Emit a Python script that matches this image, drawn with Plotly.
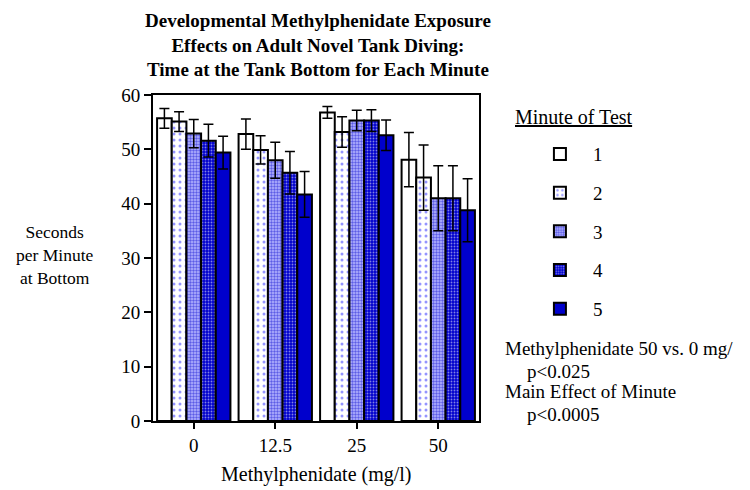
import plotly.graph_objects as go

doses = ["0", "12.5", "25", "50"]
minutes = ["1", "2", "3", "4", "5"]
# mean seconds per minute at bottom, per minute of test (rows) and dose (columns)
means = [
    [55.7, 52.8, 56.8, 48.1],
    [55.1, 49.9, 53.2, 44.8],
    [52.9, 48.0, 55.3, 41.0],
    [51.6, 45.7, 55.3, 41.0],
    [49.4, 41.7, 52.6, 38.8],
]
sems = [
    [1.8, 2.8, 1.1, 5.0],
    [1.8, 2.6, 2.8, 6.0],
    [2.6, 3.3, 1.9, 6.0],
    [3.0, 3.9, 2.0, 6.0],
    [3.0, 4.2, 2.8, 5.8],
]
title_lines = ["Developmental Methylphenidate Exposure",
               "Effects on Adult Novel Tank Diving:",
               "Time at the Tank Bottom for Each Minute"]

BLUE = "#0000CC"
patterns = [
    dict(shape="", bgcolor="white"),
    dict(shape=".", fgcolor="#2a2aff", bgcolor="white", size=6, solidity=0.2, fillmode="overlay"),
    dict(shape=".", fgcolor=BLUE, bgcolor="#b8b8ff", size=3, solidity=0.5, fillmode="overlay"),
    dict(shape=".", fgcolor="white", bgcolor=BLUE, size=3, solidity=0.3, fillmode="overlay"),
    dict(shape="", bgcolor=BLUE),
]
fills = ["white", "white", "#b8b8ff", BLUE, BLUE]

SERIF = "Liberation Serif, Times New Roman, serif"

fig = go.Figure()
for i, m in enumerate(minutes):
    fig.add_trace(go.Bar(
        x=doses, y=means[i], name=m, legendgroup=m,
        marker=dict(color=fills[i], line=dict(color="black", width=2), pattern=patterns[i]),
        error_y=dict(type="data", array=sems[i], visible=True, color="black", thickness=1.5, width=5),
    ))

fig.update_layout(
    width=750, height=490,
    margin=dict(l=145, r=279, t=87, b=77),
    paper_bgcolor="white", plot_bgcolor="white",
    barmode="group", bargap=0.1, bargroupgap=0,
    font=dict(family=SERIF, size=19, color="black"),
    showlegend=True,
    legend=dict(x=1.147, xanchor="left", y=0.877, yanchor="top",
                font=dict(size=19, family=SERIF), tracegroupgap=11,
                bgcolor="rgba(0,0,0,0)", itemwidth=56),
    xaxis=dict(range=[-0.5, 3.5], showline=True, linecolor="black", linewidth=2, mirror=True,
               ticks="outside", ticklen=6, tickwidth=1.5, tickcolor="black",
               tickfont=dict(size=19), showgrid=False),
    yaxis=dict(range=[0, 60], tickvals=[0, 10, 20, 30, 40, 50, 60], showline=True,
               linecolor="black", linewidth=2, mirror=True,
               ticks="outside", ticklen=7, tickwidth=1.5, tickcolor="black",
               tickfont=dict(size=19), showgrid=False, zeroline=False),
)

fig.add_annotation(text="<b>" + "<br>".join(title_lines) + "</b>", xref="paper", yref="paper",
                   x=0.506, y=1.266, xanchor="center", yanchor="top", showarrow=False,
                   font=dict(size=19, family=SERIF), align="center")

fig.add_annotation(text="Methylphenidate (mg/l)", xref="paper", yref="paper",
                   x=0.503, y=-0.163, xanchor="center", yanchor="middle", showarrow=False,
                   font=dict(size=20, family=SERIF))
fig.add_annotation(text="Seconds<br>per Minute<br>at Bottom", xref="paper", yref="paper",
                   x=-0.30, y=0.51, xanchor="center", yanchor="middle", showarrow=False,
                   font=dict(size=17.5, family=SERIF), align="center")
fig.add_annotation(text="<u>Minute of Test</u>", xref="paper", yref="paper",
                   x=1.104, y=0.933, xanchor="left", yanchor="middle", showarrow=False,
                   font=dict(size=20, family=SERIF))
notes = [("Methylphenidate 50 vs. 0 mg/", 1.074, 0.221),
         ("p<0.025", 1.141, 0.153),
         ("Main Effect of Minute", 1.074, 0.089),
         ("p<0.0005", 1.141, 0.021)]
for t, x, y in notes:
    fig.add_annotation(text=t, xref="paper", yref="paper", x=x, y=y,
                       xanchor="left", yanchor="middle", showarrow=False,
                       font=dict(size=19, family=SERIF))

fig.write_html("out.html")
